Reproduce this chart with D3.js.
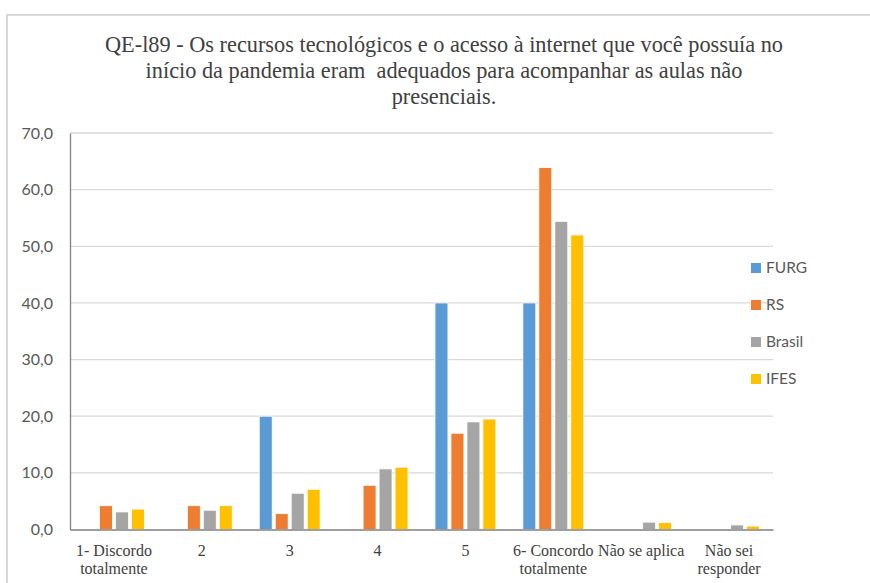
<!DOCTYPE html>
<html><head><meta charset="utf-8">
<script src="https://cdn.jsdelivr.net/npm/d3@7"></script>
<style>body{margin:0;background:#fff;}svg{display:block;}</style>
</head><body>
<script>
const categories = [["1- Discordo","totalmente"],["2"],["3"],["4"],["5"],["6- Concordo","totalmente"],["Não se aplica"],["Não sei","responder"]];
const seriesNames = ["FURG","RS","Brasil","IFES"];
const colors = ["#5b9bd5","#ed7d31","#a5a5a5","#ffc000"];
const FURG   = [0, 0, 20.0, 0, 40.0, 40.0, 0, 0];
const RS     = [4.2, 4.2, 2.8, 7.8, 17.0, 63.9, 0, 0];
const Brasil = [3.1, 3.4, 6.4, 10.7, 19.0, 54.4, 1.3, 0.8];
const IFES   = [3.6, 4.2, 7.1, 11.0, 19.5, 52.0, 1.2, 0.6];
const yTicks = [0,10,20,30,40,50,60,70];
const titleLines = ["QE-l89 - Os recursos tecnológicos e o acesso à internet que você possuía no","início da pandemia eram  adequados para acompanhar as aulas não","presenciais."];

const values = [FURG, RS, Brasil, IFES];
const W = 870, H = 583;
const svg = d3.select("body").append("svg").attr("width", W).attr("height", H);

// frame
svg.append("rect").attr("x",7).attr("y",15).attr("width",W+10).attr("height",H+10)
  .attr("fill","none").attr("stroke","#d9d9d9").attr("stroke-width",2);

const pLeft = 70, pRight = 773, pTop = 133, pBottom = 529.5;
const x0 = d3.scaleBand().domain(d3.range(categories.length)).range([pLeft,pRight]).padding(0);
const x1 = d3.scaleBand().domain(d3.range(seriesNames.length)).range([13.5, x0.bandwidth()-13.5]).paddingInner(0.19);
const y = d3.scaleLinear().domain([0,70]).range([pBottom, pTop]);
const fmt = v => d3.format(".1f")(v).replace(".", ",");

// gridlines
svg.append("g").selectAll("line").data(yTicks.filter(t=>t>0)).join("line")
  .attr("x1",pLeft).attr("x2",pRight).attr("y1",d=>y(d)).attr("y2",d=>y(d))
  .attr("stroke","#d9d9d9").attr("stroke-width",1.3);

// y axis
const yAxis = svg.append("g").attr("transform",`translate(${pLeft},0)`)
  .call(d3.axisLeft(y).tickValues(yTicks).tickFormat(fmt).tickSize(0).tickPadding(17));
yAxis.select(".domain").attr("stroke","#7f7f7f").attr("stroke-width",1.3);
yAxis.selectAll("text").attr("font-family","Lato, 'Open Sans', sans-serif").attr("font-size","16px").attr("fill","#595959");

// bars
const g = svg.append("g");
categories.forEach((c,i)=>{
  seriesNames.forEach((s,j)=>{
    const v = values[j][i];
    if (v <= 0) return;
    g.append("rect")
      .attr("x", x0(i)+x1(j)).attr("width", x1.bandwidth())
      .attr("y", y(v)).attr("height", y(0)-y(v))
      .attr("fill", colors[j]).attr("stroke","#fff").attr("stroke-width",0.8);
  });
});

// x axis
const xAxis = svg.append("g").attr("transform",`translate(0,${pBottom})`)
  .call(d3.axisBottom(x0).tickSize(0).tickFormat(""));
xAxis.select(".domain").attr("stroke","#7f7f7f").attr("stroke-width",1.5);
xAxis.selectAll(".tick").each(function(d){
  const t = d3.select(this).append("text").attr("fill","#404040")
    .attr("font-family","'Liberation Serif', 'Times New Roman', serif").attr("font-size","16px")
    .attr("text-anchor","middle");
  categories[d].forEach((line,k)=>{
    t.append("tspan").attr("x",0).attr("y",26+k*18).text(line);
  });
});

// title
const title = svg.append("text").attr("text-anchor","middle").attr("fill","#404040")
  .style("white-space","pre")
  .attr("font-family","'Liberation Serif', 'Times New Roman', serif").attr("font-size","22.3px");
titleLines.forEach((l,k)=>{
  title.append("tspan").attr("x",444).attr("y",51.5+k*26.3).text(l);
});

// legend
const lg = svg.append("g");
seriesNames.forEach((s,j)=>{
  const cy = 268 + j*37;
  lg.append("rect").attr("x",751).attr("y",cy-5).attr("width",10).attr("height",10).attr("fill",colors[j]);
  lg.append("text").attr("x",766).attr("y",cy).attr("dy","0.35em")
    .attr("font-family","Lato, 'Open Sans', sans-serif").attr("font-size","15.5px").attr("fill","#595959").text(s);
});
</script>
</body></html>
